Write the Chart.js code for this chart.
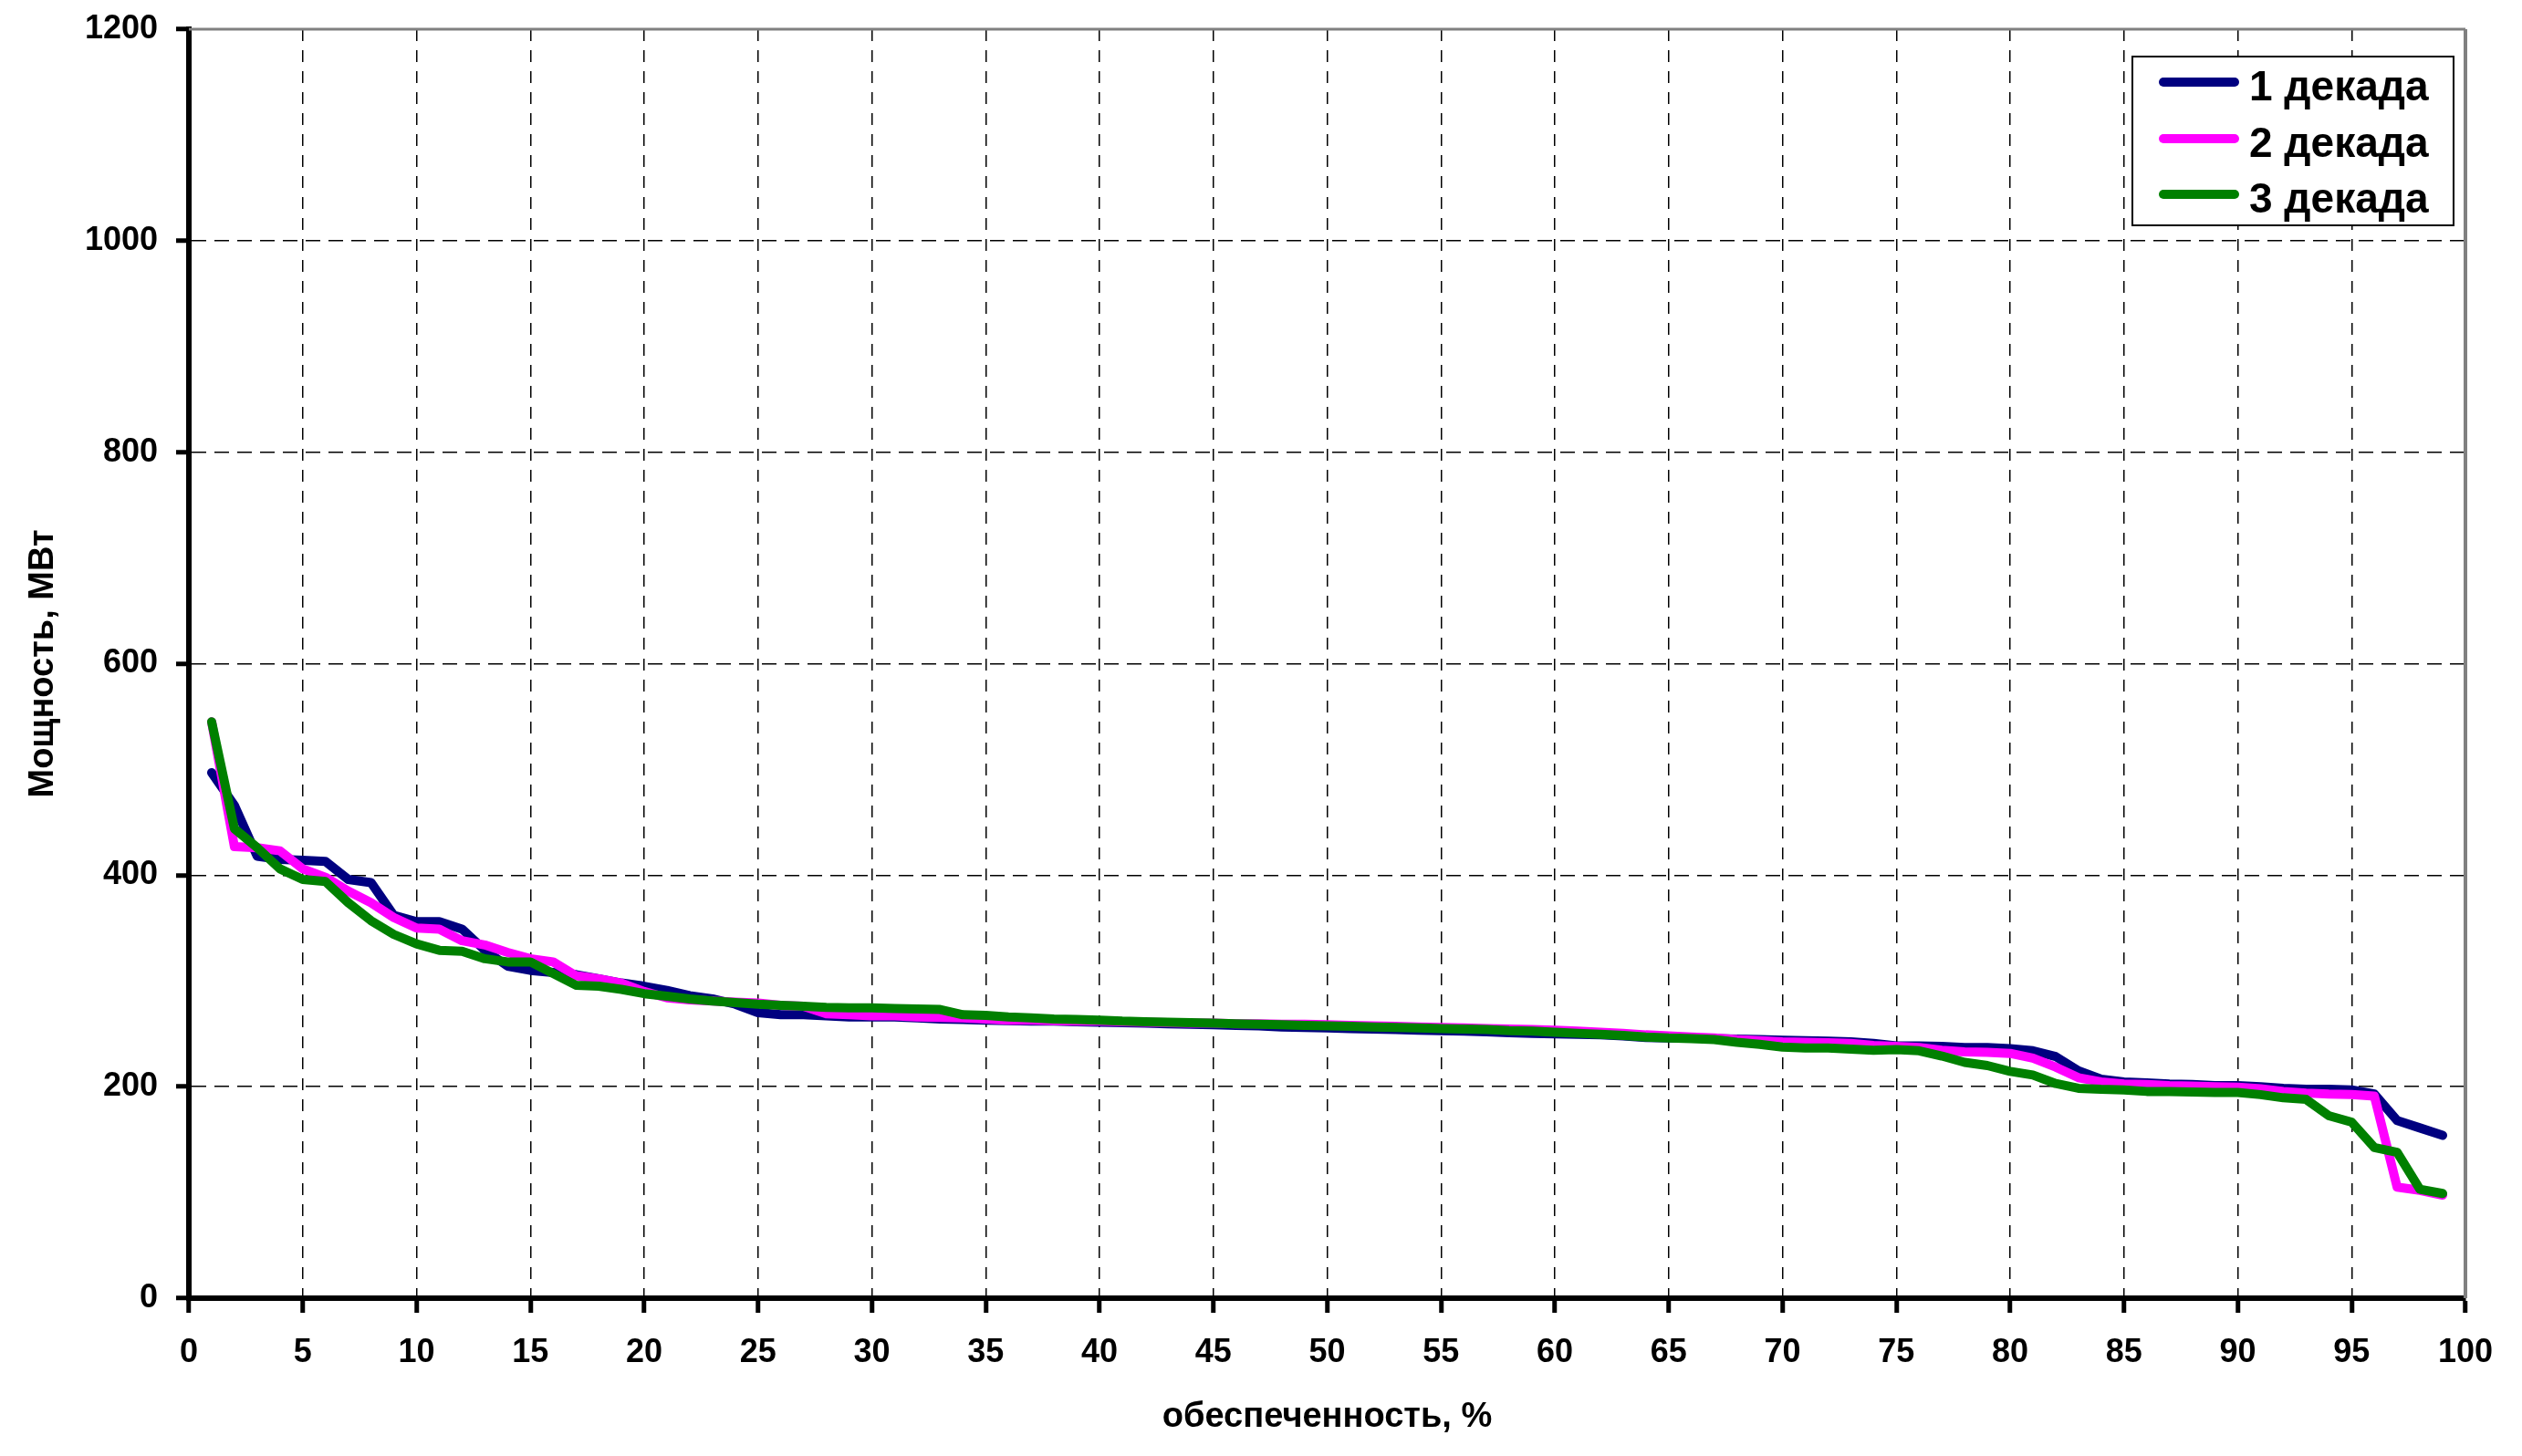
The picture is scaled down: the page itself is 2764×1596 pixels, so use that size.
<!DOCTYPE html>
<html>
<head>
<meta charset="utf-8">
<script src="https://cdn.jsdelivr.net/npm/chart.js@4.4.1/dist/chart.umd.min.js"></script>
<style>
  html, body { margin: 0; padding: 0; background: #ffffff; }
  #wrap { width: 2764px; height: 1596px; position: relative; }
</style>
</head>
<body>
<div id="wrap"><canvas id="c" width="2764" height="1596"></canvas></div>
<script>
// ---- data ----
const percent = [1,2,3,4,5,6,7,8,9,10,11,12,13,14,15,16,17,18,19,20,21,22,23,24,25,26,27,28,29,30,31,32,33,34,35,36,37,38,39,40,41,42,43,44,45,46,47,48,49,50,51,52,53,54,55,56,57,58,59,60,61,62,63,64,65,66,67,68,69,70,71,72,73,74,75,76,77,78,79,80,81,82,83,84,85,86,87,88,89,90,91,92,93,94,95,96,97,98,99];

const decade1 = [497,466,418,415,414,413,396,393,362,356,356,349,329,314,310,308,306,302,298,295,291,286,283,278,270,268,268,267,266,266,266,265,264,263.5,263,262.5,262,262,261.5,261,260.5,260,259.5,259,258.5,258,257.5,256.5,256,255.5,255,254.5,254,253.5,253,252.5,252,251,250.5,250,249.5,249,248,246.5,246,246,245.5,245,244.5,244,243.5,243,242.5,241,238.5,238.5,238,237,237,236,234,228.5,215,207,204.5,203.5,202.5,202,201,201,200,198.5,197.5,197.5,197,193,168,161,154];

const decade2 = [545,427,426,423,406,398,385,374,360,350,349,338,334,327,321,318,305,302,298,290,284,282,281,280,279,277,276,269,268,267,267,266,265.5,265,264,263,263,262.5,262,262,261.5,261,260.5,260,260,259.5,259.5,259,259,258.5,258,257.5,257,256.5,256,255.5,255,254.5,254,253.5,252.5,251.5,250.5,249,248,247,246,244.5,243.5,242.5,242,241.5,241,239,238,237,234.5,233,232.5,231.5,227,218.5,208.5,204.5,202.5,202,201,200.5,200,199.5,198,195.5,194,193,192.5,191,105,102,97.5];

const decade3 = [545,444,426,406,396,394,374,357,344,335,329,328,321,318,318,307,296,295,292,288,285.5,283,281,279.5,278,277,276,275,274.5,274.5,274,273.5,273,268,267.5,266,265,264,263.5,263,262,261.5,261,260.5,260,259.5,259,258.5,258,257.5,257,256.5,256,255.5,255,254.5,254,253,252.5,251.5,250.5,249.5,248.5,247,246,245.5,244.5,242,240,237.5,236.5,236.5,235.5,234.5,235,234,229,223,220,214.5,211,203,198.5,197.5,197,195.5,195.5,195,194.5,194.5,192.5,189.5,188,172.5,166.5,142.5,138,103,99];

const seriesNames = ['1 декада', '2 декада', '3 декада'];
const seriesColors = ['#000080', '#ff00ff', '#008000'];
const xTitle = 'обеспеченность, %';
const yTitle = 'Мощность, МВт';

const FONT = '"Liberation Sans", Arial, Helvetica, sans-serif';

function pts(vals) { return percent.map((p, i) => ({ x: p, y: vals[i] })); }

const frameAndLegend = {
  id: 'frameAndLegend',
  beforeDatasetsDraw(chart) {
    const { ctx, chartArea: a } = chart;
    ctx.save();
    ctx.strokeStyle = '#808080';
    ctx.lineWidth = 3;
    ctx.beginPath();
    ctx.moveTo(a.left, a.top);
    ctx.lineTo(a.right, a.top);
    ctx.stroke();
    ctx.lineWidth = 4;
    ctx.beginPath();
    ctx.moveTo(a.right, a.top);
    ctx.lineTo(a.right, a.bottom);
    ctx.stroke();
    ctx.restore();
  },
  afterDraw(chart) {
    const { ctx, chartArea: a } = chart;
    const left = a.right - 365, top = a.top + 30, w = 352, h = 185;
    ctx.save();
    ctx.fillStyle = '#ffffff';
    ctx.fillRect(left, top, w, h);
    ctx.strokeStyle = '#000000';
    ctx.lineWidth = 2;
    ctx.strokeRect(left, top, w, h);
    const rows = [28, 90, 151];
    chart.data.datasets.forEach((ds, i) => {
      const y = top + rows[i];
      ctx.strokeStyle = ds.borderColor;
      ctx.lineWidth = 10;
      ctx.lineCap = 'round';
      ctx.beginPath();
      ctx.moveTo(left + 34, y);
      ctx.lineTo(left + 112, y);
      ctx.stroke();
      ctx.fillStyle = '#000000';
      ctx.font = 'bold 46px ' + FONT;
      ctx.textAlign = 'left';
      ctx.textBaseline = 'alphabetic';
      ctx.fillText(ds.label, left + 128, y + 20);
    });
    ctx.restore();
  }
};

const edgeHidden = (edges) => (c) => (c.tick && edges.includes(c.tick.value)) ? 'rgba(0,0,0,0)' : '#000000';

const datasets = [decade1, decade2, decade3].map((vals, i) => ({
  label: seriesNames[i],
  data: pts(vals),
  borderColor: seriesColors[i],
  backgroundColor: seriesColors[i],
  borderWidth: 10,
  pointRadius: 0,
  pointHoverRadius: 0,
  tension: 0,
  fill: false,
  borderCapStyle: 'round',
  borderJoinStyle: 'round',
  order: 2 - i
}));

new Chart(document.getElementById('c'), {
  type: 'line',
  data: { datasets },
  options: {
    responsive: false,
    animation: false,
    devicePixelRatio: 1,
    layout: { padding: { top: 32, right: 62, left: 0, bottom: 0 } },
    plugins: { legend: { display: false }, tooltip: { enabled: false } },
    scales: {
      x: {
        type: 'linear',
        min: 0, max: 100,
        afterFit: (s) => { s.height = 173; s.paddingLeft = 0; s.paddingRight = 0; },
        ticks: { stepSize: 5, autoSkip: false, maxRotation: 0, padding: 22, color: '#000', font: { family: FONT, size: 36, weight: 'bold' }, callback: (v) => String(v) },
        grid: { color: edgeHidden([0, 100]), lineWidth: 1.5, tickLength: 16, tickWidth: 5, tickColor: '#000', tickBorderDash: [] },
        border: { display: true, color: '#000', width: 6, dash: [13, 10] },
        title: { display: true, text: xTitle, color: '#000', font: { family: FONT, size: 38, weight: 'bold' }, padding: { top: 0, bottom: 20 } }
      },
      y: {
        type: 'linear',
        min: 0, max: 1200,
        afterFit: (s) => { s.width = 207; s.paddingTop = 0; s.paddingBottom = 0; },
        ticks: { stepSize: 200, padding: 20, color: '#000', font: { family: FONT, size: 36, weight: 'bold' }, callback: (v) => String(v) },
        grid: { color: edgeHidden([0, 1200]), lineWidth: 1.5, tickLength: 14, tickWidth: 5, tickColor: '#000', tickBorderDash: [] },
        border: { display: true, color: '#000', width: 6, dash: [16, 9] },
        title: { display: true, text: yTitle, color: '#000', font: { family: FONT, size: 38, weight: 'bold' }, padding: { top: 25, bottom: 0 } }
      }
    }
  },
  plugins: [frameAndLegend]
});
</script>
</body>
</html>
